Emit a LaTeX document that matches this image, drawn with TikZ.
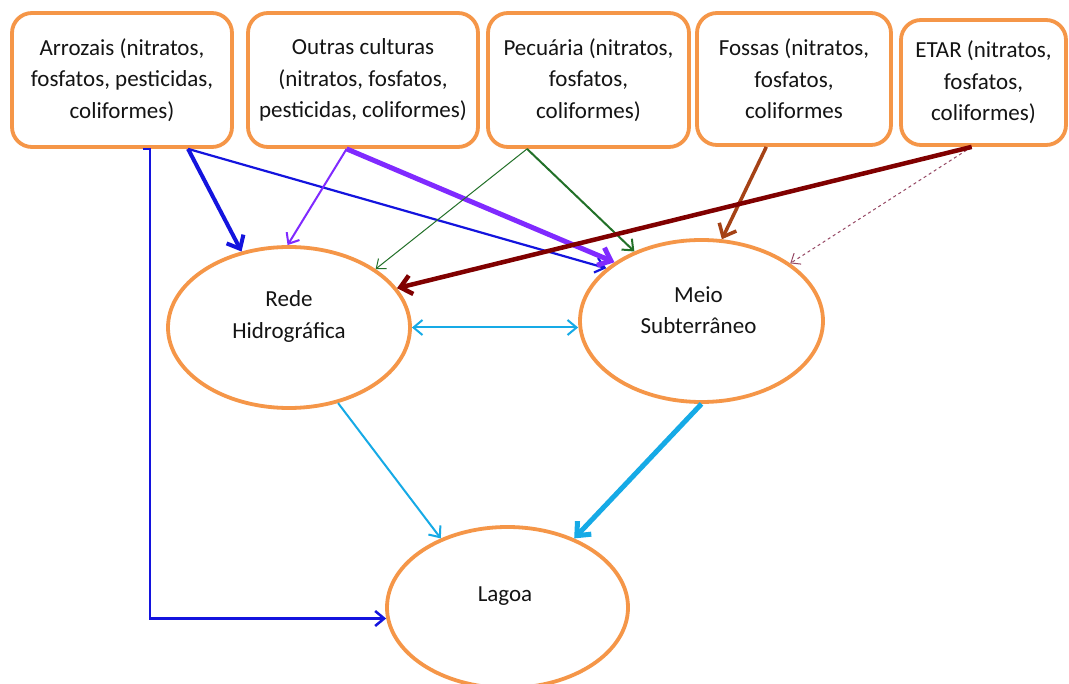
\documentclass[tikz,border=0pt]{standalone}
\usepackage{fontspec}
\setmainfont{Carlito}
\usetikzlibrary{arrows.meta,shapes.geometric,calc}

\definecolor{boxorange}{RGB}{245,150,72}
\definecolor{txt}{RGB}{20,20,20}
\definecolor{fblue}{RGB}{20,20,222}
\definecolor{fviolet}{RGB}{128,42,255}
\definecolor{fgreen}{RGB}{34,112,40}
\definecolor{fbrown}{RGB}{165,66,22}
\definecolor{fmaroon}{RGB}{128,0,0}
\definecolor{fdash}{RGB}{150,72,100}
\definecolor{fcyan}{RGB}{22,170,230}

\newcommand{\boxfont}{\fontsize{23pt}{31.5pt}\selectfont}

\tikzset{
  src/.style={draw=boxorange, line width=3.8pt, rounded corners=20pt,
    fill=white, align=center, inner sep=0pt, text=txt, font=\boxfont},
  pool/.style={ellipse, draw=boxorange, line width=3.8pt, fill=white, inner sep=0pt},
  pooltext/.style={align=center, text=txt, font=\boxfont, yshift=11pt},
  tipbig/.style={-{Straight Barb[length=11pt,width=19pt]}},
  tipmid/.style={-{Straight Barb[length=9pt,width=15pt]}},
  tipsmall/.style={-{Straight Barb[length=8pt,width=13pt]}},
}

\begin{document}
\begin{tikzpicture}[x=1pt,y=-1pt]
\useasboundingbox[fill=white] (0,0) rectangle (1069,684);

% sources of contamination
\node[src, minimum width=220pt, minimum height=134pt] (arr) at (122,80)
  {Arrozais (nitratos,\\fosfatos, pesticidas,\\coliformes)};
\node[src, minimum width=230pt, minimum height=134pt] (out) at (363,80)
  {Outras culturas\\(nitratos, fosfatos,\\pesticidas, coliformes)};
\node[src, minimum width=201pt, minimum height=134pt] (pec) at (588.5,80)
  {Pecuária (nitratos,\\fosfatos,\\coliformes)};
\node[src, minimum width=194pt, minimum height=132pt] (fos) at (794,79)
  {Fossas (nitratos,\\fosfatos,\\coliformes};
\node[src, minimum width=165pt, minimum height=125pt] (etar) at (983.5,82.5)
  {ETAR (nitratos,\\fosfatos,\\coliformes)};

% receiving water bodies
\node[pool, minimum width=242pt, minimum height=161pt,
  label={[pooltext]center:Rede\\Hidrográfica}] (rede) at (289,327.5) {};
\node[pool, minimum width=243pt, minimum height=162pt,
  label={[pooltext, xshift=-3pt]center:Meio\\Subterrâneo}] (meio) at (701.5,321) {};
\node[pool, minimum width=241pt, minimum height=161pt,
  label={[pooltext, xshift=-2.5pt]center:Lagoa}] (lag) at (507.5,607.5) {};

% departure points on the lower edges of the source boxes
\coordinate (arrL) at ($(arr.south west)!0.595!(arr.south east)$);
\coordinate (arrE) at ($(arr.south west)!0.626!(arr.south east)$);
\coordinate (arrR) at ($(arr.south west)!0.795!(arr.south east)$);
\coordinate (outO) at ($(out.south west)!0.43!(out.south east)$);
\coordinate (pecO) at ($(pec.south west)!0.2!(pec.south east)$);
\coordinate (fosO) at ($(fos.south west)!0.36!(fos.south east)$);
\coordinate (etarO) at ($(etar.south west)!0.43!(etar.south east)$);
\coordinate (lagIn) at ($(lag.west)+(1,11)$);

% Arrozais
\draw[fblue, line width=2.5pt, tipmid] (arrL) -- (arrE) -- (arrE |- lagIn) -- (lagIn);
\draw[fblue, line width=4pt, tipbig] (arrR) -- (rede.122);
\draw[fblue, line width=2.2pt, tipmid] (arrR) -- (meio.151);

% Outras culturas
\draw[fviolet, line width=2pt, tipmid] (outO) -- (rede.91);
\draw[fviolet, line width=5pt, tipbig] (outO) -- (meio.146);

% Pecuaria
\draw[fgreen, line width=1pt, tipsmall] (pecO) -- (rede.34);
\draw[fgreen, line width=2pt, tipmid] (pecO) -- (meio.134);

% Fossas
\draw[fbrown, line width=3.5pt, tipbig] (fosO) -- (meio.76);

% ETAR
\draw[fdash, line width=1pt, dashed, tipsmall] (etarO) -- (meio.33);
\draw[fmaroon, line width=4.5pt, tipbig] (etarO) -- (rede.20);

% exchanges between water bodies
\draw[fcyan, line width=2pt, {Straight Barb[length=9pt,width=15pt]}-{Straight Barb[length=9pt,width=15pt]}]
  (rede.east) -- (rede.east -| meio.west);
\draw[fcyan, line width=2pt, tipmid] (rede.-57) -- (lag.134);
\draw[fcyan, line width=5pt, tipbig] (meio.south) -- (lag.46);
\end{tikzpicture}
\end{document}
